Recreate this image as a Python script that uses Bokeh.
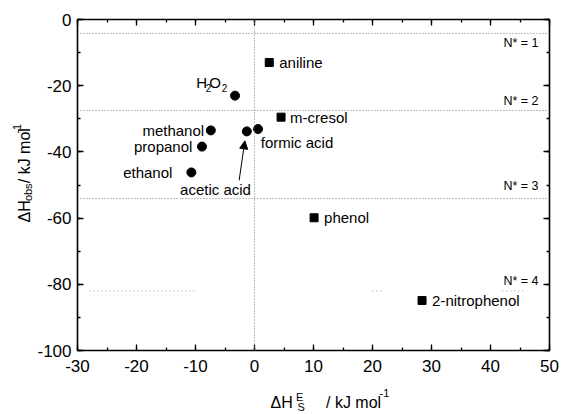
import math
from bokeh.plotting import figure
from bokeh.layouts import row, column
from bokeh.models import (Label, Arrow, NormalHead, Span, LinearAxis, Range1d,
                          SingleIntervalTicker, PrintfTickFormatter,
                          CustomJSTickFormatter)
from bokeh.core.properties import value
from bokeh.embed import file_html
from bokeh.resources import INLINE

# ---------------- data ----------------
circle_names = ["H2O2", "methanol", "acetic acid", "formic acid", "propanol", "ethanol"]
circle_x = [-3.3, -7.4, -1.3, 0.6, -8.9, -10.7]
circle_y = [-23.0, -33.5, -33.8, -33.1, -38.4, -46.2]

square_names = ["aniline", "m-cresol", "phenol", "2-nitrophenol"]
square_x = [2.5, 4.5, 10.1, 28.4]
square_y = [-13.0, -29.5, -59.9, -84.9]

n_star_labels = ["N* = 1", "N* = 2", "N* = 3", "N* = 4"]
n_star_levels = [-4.2, -27.5, -54.1, -82.0]
n4_visible_x0 = [-28.0, 20.0, 42.0]
n4_visible_x1 = [-10.0, 22.0, 46.0]

x_ticks_interval = 10
y_ticks_interval = 20

# ---------------- layout ----------------
W, H = 561, 414
YT_W = 33          # width of the y-title strip
XT_H = 34          # height of the x-title strip
FL, FR, FT, FB = 77, 549, 19, 350   # frame edges in window pixels
XR = (-30, 50)
YR = (-100, 0)
PX_X = (FR - FL) / (XR[1] - XR[0])
PX_Y = (FB - FT) / (YR[1] - YR[0])

FONT = "Liberation Sans"
MAIN_W = W - YT_W
MAIN_H = H - XT_H

p = figure(width=MAIN_W, height=MAIN_H, x_range=XR, y_range=YR,
           output_backend="svg", toolbar_location=None,
           min_border_left=FL - YT_W, min_border_right=W - FR,
           min_border_top=FT, min_border_bottom=MAIN_H - FB)
p.outline_line_color = None
p.xgrid.visible = False
p.ygrid.visible = False
p.background_fill_color = "white"
p.border_fill_color = "white"


def style_axis(ax, show_labels, standoff=8):
    ax.axis_line_width = 1.6
    ax.axis_line_color = "black"
    ax.major_tick_in = 6
    ax.major_tick_out = 0
    ax.minor_tick_in = 3
    ax.minor_tick_out = 0
    ax.major_tick_line_width = 1.3
    ax.minor_tick_line_width = 1.3
    ax.major_tick_line_color = "black"
    ax.minor_tick_line_color = "black"
    if show_labels:
        ax.formatter = PrintfTickFormatter(format="%d")
        ax.major_label_text_font = FONT
        ax.major_label_text_font_size = "17px"
        ax.major_label_text_color = "black"
        ax.major_label_standoff = standoff
    else:
        ax.formatter = CustomJSTickFormatter(code="return ''")
        ax.major_label_standoff = 0


p.xaxis.ticker = SingleIntervalTicker(interval=x_ticks_interval, num_minor_ticks=2)
p.yaxis.ticker = SingleIntervalTicker(interval=y_ticks_interval, num_minor_ticks=2)
style_axis(p.xaxis[0], True, 9)
style_axis(p.yaxis[0], True, 6)

top = LinearAxis(ticker=SingleIntervalTicker(interval=x_ticks_interval, num_minor_ticks=2))
right = LinearAxis(ticker=SingleIntervalTicker(interval=y_ticks_interval, num_minor_ticks=2))
style_axis(top, False)
style_axis(right, False)
p.add_layout(top, "above")
p.add_layout(right, "right")

# reference lines
DOT = dict(line_color="#7a7a7a", line_width=1, line_dash="1 2")
for lvl in n_star_levels[:3]:
    p.add_layout(Span(location=lvl, dimension="width", **DOT))
p.segment(x0=n4_visible_x0, x1=n4_visible_x1,
          y0=[n_star_levels[3]] * 3, y1=[n_star_levels[3]] * 3,
          line_color="#9a9a9a", line_width=1, line_dash="1 3")
p.add_layout(Span(location=0, dimension="height", **DOT))

# N* labels
n_off = [-10, 10, 12.7, 9.7]
for lab, lvl, off in zip(n_star_labels, n_star_levels, n_off):
    p.add_layout(Label(x=XR[1], y=lvl, x_offset=-11, y_offset=off, text=lab,
                       text_align="right", text_baseline="middle",
                       text_font=FONT, text_font_size="12.5px", text_color="black"))

# markers
p.scatter(circle_x, circle_y, marker="circle", size=9, fill_color="black", line_color="black")
p.scatter(square_x, square_y, marker="square", size=8, fill_color="black", line_color="black")

# point labels (offsets in screen px)
offsets = {
    "aniline": (10, 0, "left"),
    "m-cresol": (9, 0, "left"),
    "phenol": (10, 0, "left"),
    "2-nitrophenol": (10, 0, "left"),
    "methanol": (-6.7, 0, "right"),
    "propanol": (-9.6, 0, "right"),
    "ethanol": (-19, 0, "right"),
    "formic acid": (2.7, -13, "left"),
    "acetic acid": (-31.3, -58, "center"),
}
all_pts = list(zip(circle_names, circle_x, circle_y)) + list(zip(square_names, square_x, square_y))
pts = {n: (x, y) for n, x, y in all_pts}
for name, (dx, dy, al) in offsets.items():
    x, y = pts[name]
    p.add_layout(Label(x=x, y=y, x_offset=dx, y_offset=dy, text=name,
                       text_align=al, text_baseline="middle",
                       text_font=FONT, text_font_size="15px", text_color="black"))

# H2O2 with subscripts
hx, hy = pts["H2O2"]
for txt, dx, dy, fs in [("H", -38.8, 13, "15px"), ("2", -29.3, 7.3, "10px"),
                        ("O", -25.8, 13, "15px"), ("2", -13.3, 7.3, "10px")]:
    p.add_layout(Label(x=hx, y=hy, x_offset=dx, y_offset=dy, text=txt,
                       text_align="left", text_baseline="middle",
                       text_font=FONT, text_font_size=fs, text_color="black"))

# arrow to acetic acid
ax_, ay_ = pts["acetic acid"]
p.add_layout(Arrow(end=NormalHead(size=8, fill_color="black", line_color="black", line_width=1),
                   x_start=ax_ - 7.7 / PX_X, y_start=ay_ - 49 / PX_Y,
                   x_end=ax_ - 2.0 / PX_X, y_end=ay_ - 9.5 / PX_Y,
                   line_color="black", line_width=1))


# ---------------- axis title strips ----------------
def strip(w, h):
    f = figure(width=w, height=h, x_range=Range1d(0, w), y_range=Range1d(0, h),
               output_backend="svg", toolbar_location=None,
               x_axis_type=None, y_axis_type=None, min_border=0,
               min_border_left=0, min_border_right=0, min_border_top=0,
               min_border_bottom=0)
    f.outline_line_color = None
    f.background_fill_color = "white"
    f.border_fill_color = "white"
    return f


# y title strip sits at the window's left, rows 0..MAIN_H
yt = strip(YT_W, MAIN_H)
y_title = [("ΔH", 24, 233, "16px"), ("obs", 27, 208.5, "11px"),
           ("/ kJ mol", 24, 188, "16px"), ("-1", 16.5, 131, "11px")]
for txt, px, py, fs in y_title:
    yt.text(x=[px], y=[MAIN_H - py], text=[txt], angle=math.pi / 2,
            text_align="left", text_baseline="alphabetic",
            text_font=value(FONT), text_font_size=value(fs), text_color="black")

# x title strip spans the full window width, rows MAIN_H..H
xt = strip(W, XT_H)
x_title = [("ΔH", 270, 402, "16px"), ("E", 295.5, 396, "11px"), ("S", 297, 406, "11px"),
           ("/ kJ mol", 325.5, 402, "16px"), ("-1", 379, 392, "11px")]
for txt, px, py, fs in x_title:
    xt.text(x=[px], y=[H - py], text=[txt],
            text_align="left", text_baseline="alphabetic",
            text_font=value(FONT), text_font_size=value(fs), text_color="black")

layout = column(row(yt, p), xt)
open("out.html", "w").write(file_html(layout, INLINE))
